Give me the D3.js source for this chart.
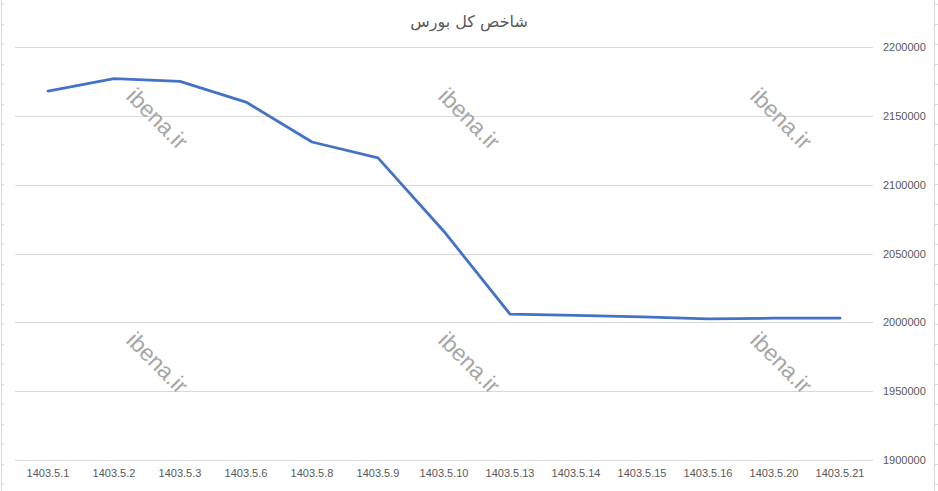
<!DOCTYPE html>
<html><head><meta charset="utf-8">
<script src="https://cdn.jsdelivr.net/npm/d3@7"></script>
<style>body{margin:0;background:#fff}svg{display:block;font-family:Calibri,Carlito,"Liberation Sans","DejaVu Sans",sans-serif}</style>
</head><body><svg id="c" width="938" height="491"></svg>
<script>
const title = "شاخص کل بورس";
const categories = ["1403.5.1","1403.5.2","1403.5.3","1403.5.6","1403.5.8","1403.5.9","1403.5.10","1403.5.13","1403.5.14","1403.5.15","1403.5.16","1403.5.20","1403.5.21"];
const values = [2168000,2177000,2175000,2160000,2131000,2119500,2066000,2006000,2005000,2004000,2002500,2003000,2003000];
const yTicks = [1900000,1950000,2000000,2050000,2100000,2150000,2200000];
const watermark = "ibena.ir";

const svg = d3.select("#c");
const W = 938, H = 491;
const mLeft = 15, mRight = 873, mTop = 47, mBottom = 460;

const x = d3.scaleBand().domain(categories).range([mLeft, mRight]).padding(0);
const y = d3.scaleLinear().domain([1900000, 2200000]).range([mBottom, mTop]);

// sheet edges
const edge = svg.append("g").attr("stroke", "#d9d9d9").attr("stroke-width", 1);
edge.append("line").attr("x1", 1.5).attr("x2", 1.5).attr("y1", 0).attr("y2", H);
edge.append("line").attr("x1", 934.5).attr("x2", 934.5).attr("y1", 0).attr("y2", H);
for (let yy = 4; yy < H; yy += 20) {
  edge.append("line").attr("x1", 1.5).attr("x2", 4).attr("y1", yy + 0.5).attr("y2", yy + 0.5);
  edge.append("line").attr("x1", 934.5).attr("x2", 938).attr("y1", yy + 0.5).attr("y2", yy + 0.5);
}

// gridlines
svg.append("g").selectAll("line").data(yTicks).join("line")
  .attr("x1", mLeft).attr("x2", mRight)
  .attr("y1", d => Math.round(y(d)) + 0.5).attr("y2", d => Math.round(y(d)) + 0.5)
  .attr("stroke", "#d9d9d9").attr("stroke-width", 1);

// right axis labels
const yAxis = d3.axisRight(y).tickValues(yTicks).tickSize(0).tickPadding(0).tickFormat(d3.format("d"));
const ya = svg.append("g").attr("transform", `translate(${mRight + 10},0)`).call(yAxis);
ya.select(".domain").remove();
ya.selectAll("text").attr("fill", "#595959").style("font-size", "11px");

// x axis labels
const xAxis = d3.axisBottom(x).tickSize(0).tickPadding(0);
const xa = svg.append("g").attr("transform", `translate(0,${mBottom + 9})`).call(xAxis);
xa.select(".domain").remove();
xa.selectAll("text").attr("fill", "#595959").style("font-size", "11px");

// watermarks
const wmX = [156, 468, 780], wmY = [120, 364];
wmY.forEach(wy => wmX.forEach(wx => {
  svg.append("text").attr("transform", `translate(${wx},${wy}) rotate(45)`)
    .attr("text-anchor", "middle").attr("dominant-baseline", "middle")
    .attr("fill", "#a6a6a6").style("font-size", "23px")
    .style("font-family", "'Liberation Sans',Arial,sans-serif")
    .text(watermark);
}));

// line
const line = d3.line().x((d, i) => x(categories[i]) + x.bandwidth() / 2).y(d => y(d));
svg.append("path").datum(values).attr("d", line)
  .attr("fill", "none").attr("stroke", "#4472c4").attr("stroke-width", 2.8)
  .attr("stroke-linejoin", "round").attr("stroke-linecap", "round");

// title
svg.append("text").attr("x", 469).attr("y", 27).attr("text-anchor", "middle")
  .attr("fill", "#595959").style("font-size", "16px")
  .style("font-family", "'DejaVu Sans','Noto Sans',sans-serif")
  .text(title);
</script></body></html>
